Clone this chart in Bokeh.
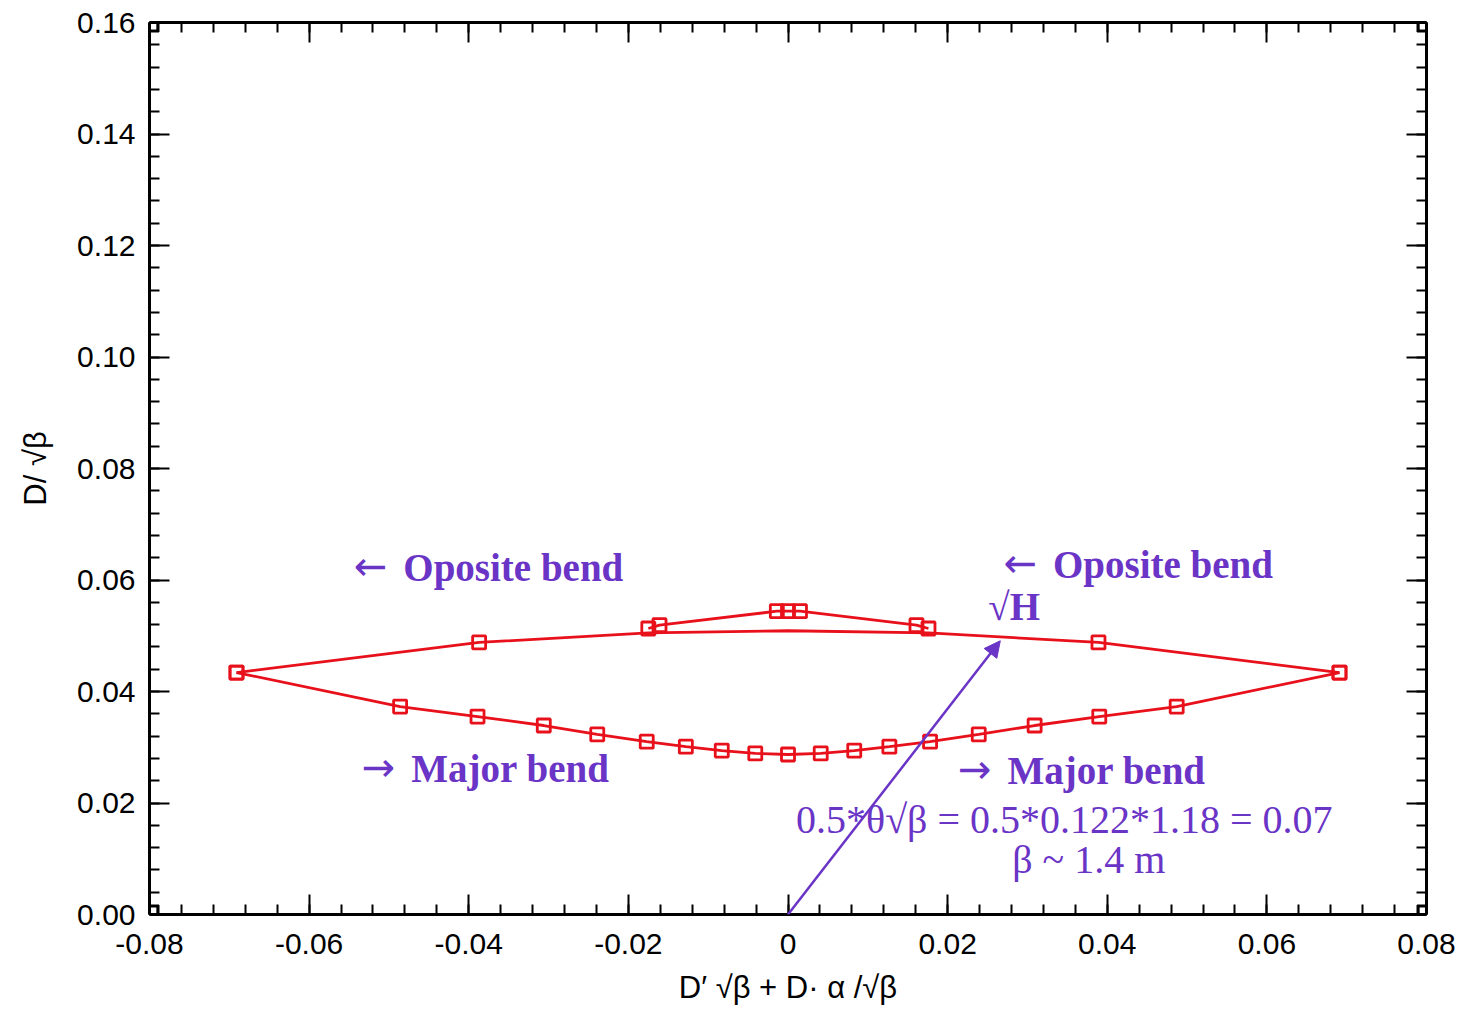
import numpy as np
from bokeh.plotting import figure
from bokeh.models import (Range1d, LinearAxis, FixedTicker, CustomJSTickFormatter,
                          Label, Arrow, NormalHead)
from bokeh.embed import file_html
from bokeh.resources import INLINE

# ---------------- data ----------------
# lower branch ("major bend"), left tip -> right tip
lower_x = [-0.0691, -0.0486, -0.0389, -0.0306, -0.0239, -0.0177, -0.0128, -0.0083, -0.0041, 0.0,
           0.0041, 0.0083, 0.0127, 0.0178, 0.0239, 0.0309, 0.0390, 0.0487, 0.0691]
lower_y = [0.0434, 0.0373, 0.0355, 0.0339, 0.0323, 0.0310, 0.0301, 0.0294, 0.0289, 0.0287,
           0.0289, 0.0294, 0.0301, 0.0310, 0.0323, 0.0339, 0.0355, 0.0373, 0.0434]

# upper branch, right tip -> left tip
upper_x = [0.0691, 0.0389, 0.0176, 0.0, -0.0175, -0.0387, -0.0691]
upper_y = [0.0434, 0.0488, 0.0505, 0.0509, 0.0505, 0.0488, 0.0434]
upper_marked = [True, True, False, False, False, True, True]

# small wedge ("oposite bend")
wedge_x = [-0.0175, -0.0161, -0.0014, 0.0, 0.0015, 0.0161, 0.0176]
wedge_y = [0.0513, 0.0519, 0.0544, 0.0544, 0.0544, 0.0519, 0.0513]

# sqrt(H) arrow
arrow_start = (0.0, 0.0)
arrow_end = (0.0266, 0.0491)

x_ticks = [-0.08, -0.06, -0.04, -0.02, 0.0, 0.02, 0.04, 0.06, 0.08]
x_tick_labels = ["-0.08", "-0.06", "-0.04", "-0.02", "0", "0.02", "0.04", "0.06", "0.08"]
y_ticks = [0.0, 0.02, 0.04, 0.06, 0.08, 0.10, 0.12, 0.14, 0.16]
y_tick_labels = ["0.00", "0.02", "0.04", "0.06", "0.08", "0.10", "0.12", "0.14", "0.16"]

X_MIN, X_MAX = -0.08, 0.08
Y_MIN, Y_MAX = 0.0, 0.16

# ---------------- styles ----------------
RED = "#e8101a"
PURPLE = "#6a34c6"
TICK_FONT = "Liberation Sans"
SERIF = "Liberation Serif"

p = figure(width=1459, height=1009,
           x_range=Range1d(X_MIN, X_MAX), y_range=Range1d(Y_MIN, Y_MAX),
           output_backend="svg", toolbar_location=None,
           min_border_left=149, min_border_right=33, min_border_top=22, min_border_bottom=95,
           x_axis_label="D\u2032 \u221a\u03b2 + D\u00b7 \u03b1 /\u221a\u03b2",
           y_axis_label="D/ \u221a\u03b2")
p.outline_line_color = None
p.grid.visible = False
p.background_fill_color = "white"
p.border_fill_color = "white"

x_minor = list(np.round(np.arange(X_MIN, X_MAX + 1e-9, 0.004), 4))
y_minor = list(np.round(np.arange(Y_MIN, Y_MAX + 1e-9, 0.004), 4))
xt = FixedTicker(ticks=x_ticks, minor_ticks=x_minor)
yt = FixedTicker(ticks=y_ticks, minor_ticks=y_minor)

def style_axis(ax):
    ax.axis_line_width = 3
    ax.axis_line_color = "black"
    ax.major_tick_in = 20
    ax.major_tick_out = 0
    ax.minor_tick_in = 10
    ax.minor_tick_out = 0
    ax.major_tick_line_width = 2
    ax.minor_tick_line_width = 2
    ax.major_tick_line_color = "black"
    ax.minor_tick_line_color = "black"
    ax.major_label_text_font = TICK_FONT
    ax.major_label_text_font_size = "30px"
    ax.major_label_text_color = "black"
    ax.axis_label_text_font = TICK_FONT
    ax.axis_label_text_font_size = "31px"
    ax.axis_label_text_font_style = "normal"
    ax.axis_label_text_color = "black"

xa = p.xaxis[0]
ya = p.yaxis[0]
style_axis(xa)
style_axis(ya)
xa.ticker = xt
ya.ticker = yt
xa.major_label_overrides = {t: s for t, s in zip(x_ticks, x_tick_labels)}
ya.major_label_overrides = {t: s for t, s in zip(y_ticks, y_tick_labels)}
xa.major_label_standoff = 19
xa.axis_label_standoff = 13
ya.major_label_standoff = 14
ya.axis_label_standoff = 21

blank = CustomJSTickFormatter(code="return ''")
ra = LinearAxis(ticker=yt, formatter=blank, major_label_standoff=0)
ta = LinearAxis(ticker=xt, formatter=blank, major_label_standoff=0)
style_axis(ra)
style_axis(ta)
p.add_layout(ra, "right")
p.add_layout(ta, "above")

# ---------------- curves ----------------
p.line(lower_x, lower_y, line_color=RED, line_width=2.8)
p.line(upper_x, upper_y, line_color=RED, line_width=2.8)
p.line(wedge_x, wedge_y, line_color=RED, line_width=2.8)

mx = lower_x + [x for x, m in zip(upper_x, upper_marked) if m] + wedge_x
my = lower_y + [y for y, m in zip(upper_y, upper_marked) if m] + wedge_y
p.scatter(mx, my, marker="square", size=13, fill_color=None, line_color=RED, line_width=2.8)

# corner squares
cx = [X_MIN, X_MAX, X_MIN, X_MAX]
cy = [Y_MIN, Y_MIN, Y_MAX, Y_MAX]
p.scatter(cx, cy, marker="square", size=19, fill_color="black", line_color="black")
dx = (X_MAX - X_MIN) * 0.003
dy = (Y_MAX - Y_MIN) * 0.0045
p.scatter([X_MIN + dx, X_MAX - dx, X_MIN + dx, X_MAX - dx],
          [Y_MIN + dy, Y_MIN + dy, Y_MAX - dy, Y_MAX - dy],
          marker="square", size=6, fill_color="white", line_color=None)

# ---------------- annotations ----------------
p.add_layout(Arrow(end=NormalHead(size=16, fill_color=PURPLE, line_color=PURPLE, line_width=1),
                   x_start=arrow_start[0], y_start=arrow_start[1],
                   x_end=arrow_end[0], y_end=arrow_end[1],
                   line_color=PURPLE, line_width=2.5))

def lab(x, y, text, bold=True, size="39px", font=SERIF):
    p.add_layout(Label(x=x, y=y, text=text, text_font=font, text_font_size=size,
                       text_font_style="bold" if bold else "normal", text_color=PURPLE,
                       text_align="left", text_baseline="middle"))

def arrow_lab(x, y, arrow, text):
    lab(x, y + 0.0003, arrow, bold=False, size="40px", font="DejaVu Sans")
    lab(x + 0.0062, y, text)

arrow_lab(-0.0544, 0.0622, "\u2190", "Oposite bend")
arrow_lab(0.0270, 0.0628, "\u2190", "Oposite bend")
lab(0.0251, 0.0552, "\u221aH")
arrow_lab(-0.0534, 0.0262, "\u2192", "Major bend")
arrow_lab(0.0213, 0.0258, "\u2192", "Major bend")
lab(0.0010, 0.0170, "0.5*\u03b8\u221a\u03b2 = 0.5*0.122*1.18 = 0.07", bold=False, size="40px")
lab(0.0281, 0.0099, "\u03b2 ~ 1.4 m", bold=False, size="40px")

open("out.html", "w").write(file_html(p, INLINE))
